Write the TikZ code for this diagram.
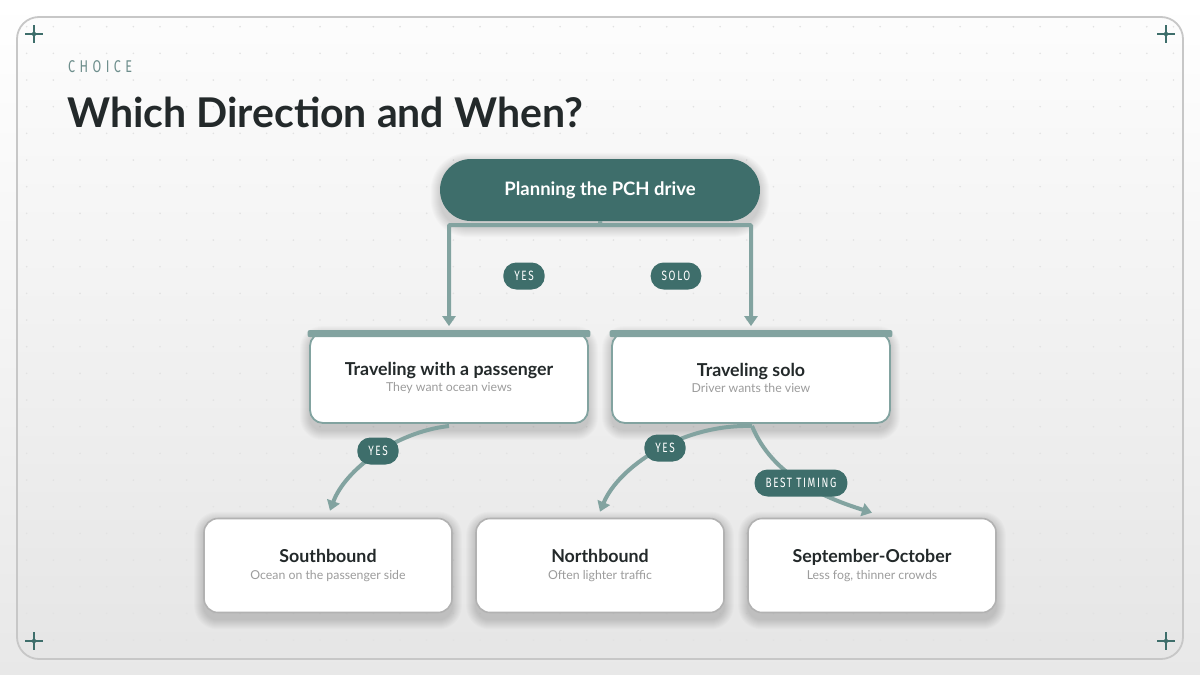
\documentclass[tikz,border=0pt]{standalone}
\usepackage{fontspec}
\setmainfont{Lato}
\newfontfamily\condfont[FakeStretch=0.74,LetterSpace=12]{Fira Sans}
\usetikzlibrary{arrows.meta,calc}
\pgfdeclarelayer{shadowlayer}
\pgfsetlayers{shadowlayer,main}
\definecolor{teal}{HTML}{3E6E6B}
\definecolor{edgec}{HTML}{82A3A0}
\definecolor{graybd}{HTML}{B2B2B2}
\definecolor{ink}{HTML}{23292A}
\definecolor{subc}{HTML}{9C9C9C}
\definecolor{eyebrow}{HTML}{6D8E8C}
\definecolor{dotc}{HTML}{E2E2E2}
\tikzset{
  rootbox/.style={rectangle, rounded corners=31pt, fill=teal, minimum width=320pt, minimum height=62pt,
     text=white, font=\bfseries\fontsize{18.5}{20}\selectfont},
  midbox/.style={rectangle, rounded corners=13pt, fill=white, draw=edgec, line width=1.8pt, minimum width=278pt, minimum height=90pt,
     align=center, font=\fontsize{12}{16.5}\selectfont},
  leafbox/.style={rectangle, rounded corners=14pt, fill=white, draw=graybd, line width=1.6pt, minimum width=248pt, minimum height=94pt,
     align=center, font=\fontsize{12}{16.5}\selectfont},
  pill/.style={rectangle, rounded corners=13pt, fill=teal, text=white, minimum height=27pt, inner xsep=11pt, inner ysep=0pt,
     font=\condfont\fontsize{13.5}{14}\selectfont},
  edge/.style={draw=edgec, line width=4pt, -{Triangle[length=10pt,width=13pt]}},
  crossmark/.style={draw=teal, line width=1.8pt},
  shadowpiece/.style={fill=black, opacity=0.016},
}
\newcommand{\softshade}[2]{%
  \begin{pgfonlayer}{shadowlayer}
  \foreach \k in {0,...,9} {
    \fill[shadowpiece, rounded corners=#2+\k*1pt] ([xshift=-\k*1pt, yshift=\k*1pt-3pt]#1.north west) rectangle ([xshift=\k*1pt, yshift=-\k*1pt-7pt]#1.south east);
  }
  \end{pgfonlayer}}
\newcommand{\ttl}[1]{{\bfseries\color{ink}\fontsize{17.8}{16.5}\selectfont #1}}
\newcommand{\sbt}[1]{{\color{subc}\fontsize{12.3}{16.5}\selectfont #1}}
\begin{document}
\begin{tikzpicture}[x=1pt,y=-1pt]
\useasboundingbox (0,0) rectangle (1200,675);
% background
\begin{pgfonlayer}{shadowlayer}
\shade[top color=white, bottom color=black!9] (0,0) rectangle (1200,675);
\shade[top color=black!1, bottom color=black!10, draw=black!22, line width=1.8pt, rounded corners=22pt] (17,17) rectangle (1183,659);
\foreach \i in {1,...,44} {\foreach \j in {1,...,24} {\fill[dotc] (26.67*\i,26.67*\j) circle (0.9pt);}}
\end{pgfonlayer}
% corner crosses
\foreach \cx/\cy in {34/34,1166/34,34/641,1166/641} {
  \draw[crossmark] (\cx-9,\cy) -- (\cx+9,\cy);
  \draw[crossmark] (\cx,\cy-9) -- (\cx,\cy+9);
  \fill[teal] (\cx,\cy) circle (2.2pt);
}
% header
\node[anchor=base west, inner sep=0pt, text=eyebrow, font=\condfont\fontsize{17}{18}\selectfont\addfontfeatures{LetterSpace=26}] (eyebrowtxt) at (68,72) {CHOICE};
\node[anchor=base west, inner sep=0pt, text=ink, font=\fontsize{41}{46}\selectfont\bfseries] (title) at (67,127) {Which Direction and When?};
% nodes
\node[rootbox] (root) at (600,190) {Planning the PCH drive};
\node[midbox] (pass) at (449,378) {\ttl{Traveling with a passenger}\\\sbt{They want ocean views}};
\node[midbox] (solo) at (751,378) {\ttl{Traveling solo}\\\sbt{Driver wants the view}};
\fill[edgec, rounded corners=2pt] ([xshift=-1.5pt,yshift=2pt]pass.north west) rectangle ([xshift=1.5pt,yshift=-5pt]pass.north east);
\fill[edgec, rounded corners=2pt] ([xshift=-1.5pt,yshift=2pt]solo.north west) rectangle ([xshift=1.5pt,yshift=-5pt]solo.north east);
\node[leafbox] (south) at (328,565.5) {\ttl{Southbound}\\\sbt{Ocean on the passenger side}};
\node[leafbox] (north) at (600,565.5) {\ttl{Northbound}\\\sbt{Often lighter traffic}};
\node[leafbox] (sept) at (872,565.5) {\ttl{September-October}\\\sbt{Less fog, thinner crowds}};
\softshade{root}{28pt}
\softshade{pass}{13pt}
\softshade{solo}{13pt}
\softshade{south}{14pt}
\softshade{north}{14pt}
\softshade{sept}{14pt}
% connectors
\coordinate (rj) at (600,225);
\draw[edge, rounded corners=1pt] (root.south) -- (rj) -| ([yshift=6pt]pass.north);
\draw[edge, rounded corners=1pt] (root.south) -- (rj) -| ([yshift=6pt]solo.north);
\coordinate (ps) at (449,426);
\coordinate (ss) at (752,426);
\draw[edge] (ps) .. controls (395,432) and (345,470) .. ([xshift=2pt,yshift=7pt]south.north);
\draw[edge] (ss) .. controls (680,424) and (618,468) .. ([xshift=0pt,yshift=6pt]north.north);
\draw[edge] (ss) .. controls (772,475) and (822,497) .. ([xshift=0pt,yshift=5pt]sept.north);
% edge labels
\node[pill] (l1) at (524,276) {YES};
\node[pill] (l2) at (676,276) {SOLO};
\node[pill] (l3) at (378,451) {YES};
\node[pill] (l4) at (665,448) {YES};
\node[pill] (l5) at (801,483) {BEST TIMING};
\end{tikzpicture}
\end{document}
